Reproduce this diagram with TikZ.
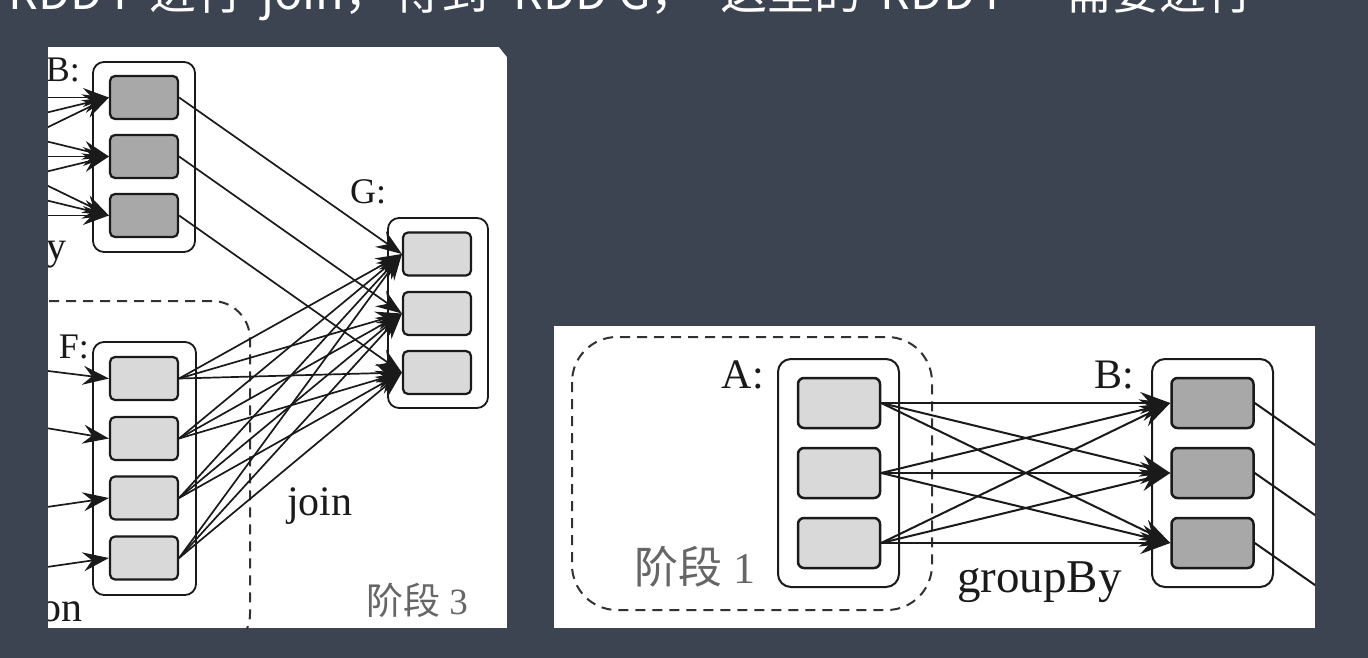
\documentclass[tikz,border=0pt]{standalone}
\usepackage{fontspec}
\setmainfont{Liberation Serif}
\newfontfamily\cjk{Noto Sans CJK SC}
\usetikzlibrary{arrows.meta}
\definecolor{bgc}{HTML}{3D4451}
\definecolor{lboxc}{HTML}{D9D9D9}
\definecolor{dboxc}{HTML}{A8A8A8}
\definecolor{ink}{HTML}{1A1A1A}
\definecolor{stagec}{HTML}{666666}
\begin{document}
\begin{tikzpicture}[x=1pt,y=-1pt,
  cont/.style={draw=ink, line width=2pt, rounded corners=13pt, fill=white, inner sep=0pt},
  contL/.style={cont, rounded corners=11pt, line width=1.8pt},
  partR/.style={draw=ink, line width=2.5pt, rounded corners=6pt, inner sep=0pt, minimum width=82pt, minimum height=50pt},
  partL/.style={draw=ink, line width=2.2pt, rounded corners=5pt, inner sep=0pt, minimum width=68pt, minimum height=43pt},
  lightp/.style={fill=lboxc},
  darkp/.style={fill=dboxc},
  edgeR/.style={draw=ink, line width=2pt, -{Stealth[length=30pt,width=22pt,inset=10pt]}},
  edgeL/.style={draw=ink, line width=1.7pt, -{Stealth[length=26pt,width=19pt,inset=9pt]}},
  plainR/.style={draw=ink, line width=2pt},
  stagebox/.style={draw=ink!90, line width=2pt, dash pattern=on 10pt off 7pt},
  lbl/.style={text=ink, inner sep=0pt},
  stagelbl/.style={text=stagec, inner sep=0pt},
  ttl/.style={anchor=base west, text=white, inner sep=0pt, font=\cjk\fontsize{47}{52}\selectfont}
]
\fill[bgc] (0,0) rectangle (1368,658);
\useasboundingbox (0,0) rectangle (1368,658);

% title line, cut at the top
\begin{scope}
\clip (0,0) rectangle (1368,658);
\node[ttl, anchor=base east] (t1) at (140,10) {RDD F};
\node[ttl] (t2) at (149,10) {进行};
\node[ttl] (t3) at (261,10) {join，};
\node[ttl] (t4) at (394,10) {得到};
\node[ttl] (t5) at (513,10) {RDD G，};
\node[ttl] (t6) at (720,10) {这里的};
\node[ttl, anchor=base east] (t7) at (1012,10) {RDD F};
\node[ttl] (t8) at (1065,10) {需要进行};
\end{scope}

% ---------------- left panel ----------------
\begin{scope}
\clip (48,47) rectangle (507,628);
\fill[white] (48,47) rectangle (507,628);
\draw[stagebox, rounded corners=38pt] (-100,301) rectangle (250,652);
\node[contL, minimum width=102pt, minimum height=190pt] (lB) at (144,157) {};
\node[contL, minimum width=103pt, minimum height=253pt] (lF) at (144.5,468.5) {};
\node[contL, minimum width=100pt, minimum height=190pt] (lG) at (438,313) {};
\node[partL, darkp] (lb1) at (144,97.5) {};
\node[partL, darkp] (lb2) at (144,156.5) {};
\node[partL, darkp] (lb3) at (144,215.5) {};
\node[partL, lightp] (lf1) at (144,378.5) {};
\node[partL, lightp] (lf2) at (144,438.5) {};
\node[partL, lightp] (lf3) at (144,498) {};
\node[partL, lightp] (lf4) at (144,558) {};
\node[partL, lightp] (lg1) at (437,254) {};
\node[partL, lightp] (lg2) at (437,313.5) {};
\node[partL, lightp] (lg3) at (437,372.5) {};
\coordinate (la1) at (-134,97.5);
\coordinate (la2) at (-134,156.5);
\coordinate (la3) at (-134,215.5);
\coordinate (lu1) at (40,370);
\coordinate (lu2) at (40,427);
\coordinate (lu3) at (40,508);
\coordinate (lu4) at (40,568);
\foreach \i in {1,2,3}{\foreach \j in {1,2,3}{\draw[edgeL] (la\i) -- (lb\j.west);}}
\foreach \i in {1,2,3,4}{\draw[edgeL] (lu\i) -- (lf\i.west);}
\foreach \i in {1,2,3}{\draw[edgeL] (lb\i.east) -- (lg\i.west);}
\foreach \i in {1,2,3,4}{\foreach \j in {1,2,3}{\draw[edgeL] (lf\i.east) -- (lg\j.west);}}
\node[lbl, anchor=base east, font=\fontsize{36}{40}\selectfont] (lBlab) at (80,82) {B:};
\node[lbl, anchor=base west, font=\fontsize{36}{40}\selectfont] (lGlab) at (350,203) {G:};
\node[lbl, anchor=base east, font=\fontsize{36}{40}\selectfont] (lFlab) at (89,358) {F:};
\node[lbl, anchor=base east, font=\fontsize{40}{44}\selectfont] (lgrp) at (67,259) {groupBy};
\node[lbl, anchor=base east, font=\fontsize{42}{46}\selectfont] (luni) at (83,621) {union};
\node[lbl, anchor=base west, font=\fontsize{42}{46}\selectfont] (ljoin) at (287,515) {join};
\node[stagelbl, font=\fontsize{37}{40}\selectfont] (lst) at (417,600) {{\cjk 阶段} 3};
\fill[bgc] (499,47) -- (507,47) -- (507,57) -- cycle;
\end{scope}

% ---------------- right panel ----------------
\begin{scope}
\clip (554,326) rectangle (1315,628);
\fill[white] (554,326) rectangle (1315,628);
\draw[stagebox, rounded corners=45pt] (572,337) rectangle (932,610);
\node[cont, minimum width=121pt, minimum height=228pt] (rA) at (838.5,473) {};
\node[cont, minimum width=121pt, minimum height=228pt] (rB) at (1212.5,473) {};
\node[partR, lightp] (ra1) at (839,403) {};
\node[partR, lightp] (ra2) at (839,473) {};
\node[partR, lightp] (ra3) at (839,543) {};
\node[partR, darkp] (rb1) at (1212.5,403) {};
\node[partR, darkp] (rb2) at (1212.5,473) {};
\node[partR, darkp] (rb3) at (1212.5,543) {};
\coordinate (ro1) at (1345,466);
\coordinate (ro2) at (1345,536);
\coordinate (ro3) at (1345,606);
\foreach \i in {1,2,3}{\foreach \j in {1,2,3}{\draw[edgeR] (ra\i.east) -- (rb\j.west);}}
\foreach \i in {1,2,3}{\draw[plainR] (rb\i.east) -- (ro\i);}
\node[lbl, anchor=base east, font=\fontsize{42}{46}\selectfont] (rAlab) at (764,388) {A:};
\node[lbl, anchor=base east, font=\fontsize{42}{46}\selectfont] (rBlab) at (1134,388) {B:};
\node[lbl, anchor=base west, font=\fontsize{47}{50}\selectfont] (rgrp) at (957,592) {groupBy};
\node[stagelbl, font=\fontsize{44}{48}\selectfont] (rst) at (695,567) {{\cjk 阶段} 1};
\end{scope}
\end{tikzpicture}
\end{document}
